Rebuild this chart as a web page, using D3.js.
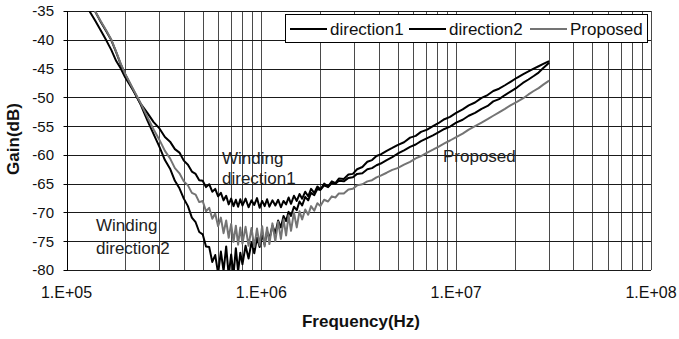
<!DOCTYPE html>
<html>
<head>
<meta charset="utf-8">
<script src="https://cdn.jsdelivr.net/npm/d3@7"></script>
<style>
  html, body { margin: 0; padding: 0; background: #fff; }
  svg { display: block; font-family: Arial, "Liberation Sans", sans-serif; }
</style>
</head>
<body>
<div id="chart"></div>
<script>
// frequency points (Hz), shared by the three measured curves
var freqHz = [
  1.3e5, 1.4e5, 1.5e5, 1.6e5, 1.7e5, 1.8e5, 1.9e5, 2.0e5, 2.2e5, 2.4e5,
  2.6e5, 2.8e5, 3.0e5, 3.2e5, 3.4e5, 3.6e5, 3.8e5, 4.0e5, 4.2e5, 4.4e5,
  4.6e5, 4.8e5, 5.0e5, 5.2e5, 5.4e5, 5.6e5, 5.8e5, 6.0e5, 6.2e5, 6.4e5,
  6.6e5, 6.8e5, 7.0e5, 7.2e5, 7.4e5, 7.6e5, 7.8e5, 8.0e5, 8.3e5, 8.6e5,
  8.9e5, 9.2e5, 9.5e5, 9.8e5, 1.01e6, 1.04e6, 1.07e6, 1.10e6, 1.14e6, 1.18e6,
  1.22e6, 1.26e6, 1.30e6, 1.34e6, 1.38e6, 1.42e6, 1.47e6, 1.52e6, 1.57e6, 1.62e6,
  1.68e6, 1.74e6, 1.80e6, 1.87e6, 1.94e6, 2.01e6, 2.1e6, 2.2e6, 2.3e6, 2.4e6,
  2.5e6, 2.65e6, 2.8e6, 2.95e6, 3.1e6, 3.3e6, 3.5e6, 3.7e6, 3.9e6, 4.1e6,
  4.4e6, 4.7e6, 5.0e6, 5.4e6, 5.8e6, 6.2e6, 6.6e6, 7.1e6, 7.6e6, 8.1e6,
  8.7e6, 9.3e6, 1.0e7, 1.08e7, 1.16e7, 1.25e7, 1.35e7, 1.45e7, 1.55e7, 1.66e7,
  1.78e7, 1.90e7, 2.05e7, 2.2e7, 2.35e7, 2.5e7, 2.65e7, 2.8e7, 3.0e7
];

// gain (dB), winding direction 1
var direction1 = [
  -34.8, -36.6, -38.4, -40.1, -41.8, -43.7, -45.0, -46.5, -48.8, -51.1,
  -52.7, -54.3, -55.4, -56.9, -57.7, -59.0, -59.6, -61.0, -61.7, -62.9,
  -63.3, -64.4, -64.5, -65.6, -65.1, -66.4, -65.9, -67.2, -66.6, -67.9,
  -67.1, -68.6, -67.6, -68.9, -67.8, -69.0, -67.7, -68.8, -67.6, -69.1,
  -67.9, -68.7, -67.5, -69.2, -68.0, -68.9, -67.7, -69.0, -67.9, -68.8,
  -67.8, -69.1, -68.0, -68.6, -67.4, -68.5, -67.1, -68.0, -66.8, -67.6,
  -66.4, -67.2, -65.9, -66.6, -65.5, -66.0, -65.0, -65.5, -64.6, -64.9,
  -64.1, -64.2, -63.4, -63.3, -62.5, -62.1, -61.2, -60.9, -60.2, -59.9,
  -59.3, -58.8, -58.3, -57.8, -57.0, -56.7, -56.0, -55.6, -55.0, -54.5,
  -53.8, -53.4, -52.7, -52.1, -51.4, -50.9, -50.1, -49.6, -48.9, -48.5,
  -47.9, -47.3, -46.6, -46.0, -45.5, -45.0, -44.6, -44.2, -43.7
];

// gain (dB), winding direction 2
var direction2 = [
  -33.0, -35.0, -36.9, -38.5, -40.1, -42.2, -44.3, -46.0, -48.7, -51.2,
  -54.0, -56.4, -58.6, -60.9, -62.4, -64.5, -65.8, -67.6, -68.9, -70.9,
  -71.7, -73.4, -73.8, -75.9, -76.0, -78.6, -77.4, -80.6, -76.8, -80.2,
  -75.9, -81.0, -77.3, -80.8, -76.2, -80.3, -77.0, -79.0, -75.8, -78.0,
  -75.2, -77.1, -74.4, -76.0, -73.8, -75.6, -73.2, -74.6, -72.3, -73.6,
  -71.4, -72.6, -70.6, -71.5, -69.9, -70.6, -69.0, -69.6, -68.1, -68.8,
  -67.3, -67.9, -66.6, -67.0, -65.9, -66.1, -65.3, -65.6, -64.9, -65.0,
  -64.5, -64.6, -64.0, -63.9, -63.3, -63.2, -62.5, -62.3, -61.8, -61.5,
  -60.9, -60.4, -59.8, -59.2, -58.6, -58.2, -57.6, -57.1, -56.6, -56.1,
  -55.5, -55.1, -54.4, -53.9, -53.2, -52.7, -52.0, -51.5, -50.7, -50.3,
  -49.6, -49.0, -48.3, -47.5, -46.9, -46.3, -45.7, -44.9, -44.0
];

// gain (dB), proposed structure
var proposed = [
  -33.0, -35.0, -36.8, -38.4, -40.0, -42.1, -44.2, -45.9, -48.6, -51.0,
  -53.4, -55.6, -57.4, -59.3, -60.6, -62.3, -63.2, -64.6, -65.3, -66.6,
  -66.9, -68.2, -68.0, -69.8, -69.2, -71.1, -70.2, -72.4, -70.9, -73.6,
  -71.4, -74.4, -72.0, -75.1, -72.3, -75.6, -72.6, -75.4, -72.5, -75.8,
  -72.7, -76.0, -72.8, -75.7, -72.4, -75.9, -72.6, -75.5, -71.9, -75.0,
  -71.6, -74.6, -71.2, -74.0, -70.5, -73.2, -70.0, -72.6, -69.8, -71.2,
  -69.5, -70.4, -68.9, -69.7, -68.4, -68.9, -67.8, -68.1, -67.2, -67.4,
  -66.7, -66.7, -66.0, -65.9, -65.3, -65.1, -64.6, -64.4, -63.9, -63.6,
  -63.1, -62.6, -62.3, -61.7, -61.2, -60.6, -60.2, -59.6, -59.1, -58.6,
  -58.0, -57.5, -56.9, -56.3, -55.6, -55.0, -54.4, -53.8, -53.2, -52.6,
  -52.0, -51.4, -50.8, -50.2, -49.5, -48.9, -48.4, -47.8, -47.1
];

var seriesNames = ['direction1', 'direction2', 'Proposed'];
var seriesColors = ['#000000', '#000000', '#747474'];
var gainTicks = [-35, -40, -45, -50, -55, -60, -65, -70, -75, -80];
var decadeTicks = [1e5, 1e6, 1e7, 1e8];
var decadeLabels = ['1.E+05', '1.E+06', '1.E+07', '1.E+08'];

(function() {
  var width = 679, height = 339;
  var plot = { left: 66.5, right: 651, top: 11, bottom: 270 };

  var svg = d3.select('#chart').append('svg')
    .attr('width', width)
    .attr('height', height);

  svg.append('rect')
    .attr('width', width)
    .attr('height', height)
    .attr('fill', '#fff');

  var x = d3.scaleLog().domain([1e5, 1e8]).range([plot.left, plot.right]);
  var y = d3.scaleLinear().domain([-80, -35]).range([plot.bottom, plot.top]);

  function crisp(v) { return Math.round(v) + 0.5; }

  // vertical grid: every 1..9 x decade
  svg.append('g').selectAll('line')
    .data(x.ticks())
    .join('line')
      .attr('x1', function(d) { return crisp(x(d)); })
      .attr('x2', function(d) { return crisp(x(d)); })
      .attr('y1', plot.top)
      .attr('y2', plot.bottom)
      .attr('stroke', '#4a4a4a')
      .attr('stroke-width', 1);

  // horizontal grid
  svg.append('g').selectAll('line')
    .data(gainTicks)
    .join('line')
      .attr('x1', plot.left)
      .attr('x2', plot.right)
      .attr('y1', function(d) { return crisp(y(d)); })
      .attr('y2', function(d) { return crisp(y(d)); })
      .attr('stroke', '#1a1a1a')
      .attr('stroke-width', 1);

  // left axis line + small ticks
  svg.append('line')
    .attr('x1', crisp(plot.left)).attr('x2', crisp(plot.left))
    .attr('y1', plot.top).attr('y2', plot.bottom + 0.5)
    .attr('stroke', '#000');
  svg.append('g').selectAll('line')
    .data(gainTicks)
    .join('line')
      .attr('x1', crisp(plot.left) - 4)
      .attr('x2', crisp(plot.left))
      .attr('y1', function(d) { return crisp(y(d)); })
      .attr('y2', function(d) { return crisp(y(d)); })
      .attr('stroke', '#000');

  // y tick labels
  svg.append('g').selectAll('text')
    .data(gainTicks)
    .join('text')
      .attr('x', 54)
      .attr('y', function(d) { return y(d); })
      .attr('dy', '0.36em')
      .attr('text-anchor', 'end')
      .attr('font-size', 15)
      .attr('fill', '#111')
      .text(function(d) { return d; });

  // x tick labels
  svg.append('g').selectAll('text')
    .data(decadeTicks)
    .join('text')
      .attr('x', function(d) { return x(d); })
      .attr('y', 298)
      .attr('text-anchor', 'middle')
      .attr('font-size', 16)
      .attr('fill', '#111')
      .text(function(d, i) { return decadeLabels[i]; });

  // axis titles
  svg.append('text')
    .attr('x', 361)
    .attr('y', 327)
    .attr('text-anchor', 'middle')
    .attr('font-size', 17)
    .attr('font-weight', 'bold')
    .attr('fill', '#111')
    .text('Frequency(Hz)');

  svg.append('text')
    .attr('transform', 'translate(19,139) rotate(-90)')
    .attr('text-anchor', 'middle')
    .attr('font-size', 17)
    .attr('font-weight', 'bold')
    .attr('fill', '#111')
    .text('Gain(dB)');

  // curves, clipped to plot area
  svg.append('clipPath').attr('id', 'plotClip')
    .append('rect')
      .attr('x', plot.left)
      .attr('y', plot.top)
      .attr('width', plot.right - plot.left)
      .attr('height', plot.bottom - plot.top);

  var line = d3.line()
    .x(function(d) { return x(d[0]); })
    .y(function(d) { return y(d[1]); });

  var series = [direction1, direction2, proposed].map(function(vals) {
    return freqHz.map(function(f, i) { return [f, vals[i]]; });
  });

  svg.append('g').attr('clip-path', 'url(#plotClip)')
    .selectAll('path')
    .data(series)
    .join('path')
      .attr('d', line)
      .attr('fill', 'none')
      .attr('stroke', function(d, i) { return seriesColors[i]; })
      .attr('stroke-width', 2)
      .attr('stroke-linejoin', 'round');

  // legend
  var legend = svg.append('g');
  legend.append('rect')
    .attr('x', 285.5).attr('y', 14.5)
    .attr('width', 362).attr('height', 28)
    .attr('fill', '#fff')
    .attr('stroke', '#000');

  var legendX = [290, 409, 530];
  seriesNames.forEach(function(name, i) {
    legend.append('line')
      .attr('x1', legendX[i]).attr('x2', legendX[i] + 37)
      .attr('y1', 29).attr('y2', 29)
      .attr('stroke', seriesColors[i])
      .attr('stroke-width', 2);
    legend.append('text')
      .attr('x', legendX[i] + 40)
      .attr('y', 35)
      .attr('font-size', 17)
      .attr('fill', '#111')
      .text(name);
  });

  // annotations
  var notes = [
    { x: 222, y: 164, t: 'Winding' },
    { x: 222, y: 184, t: 'direction1' },
    { x: 96, y: 231, t: 'Winding' },
    { x: 96, y: 254, t: 'direction2' },
    { x: 443, y: 162, t: 'Proposed' }
  ];
  svg.append('g').selectAll('text')
    .data(notes)
    .join('text')
      .attr('x', function(d) { return d.x; })
      .attr('y', function(d) { return d.y; })
      .attr('font-size', 17)
      .attr('fill', '#222')
      .text(function(d) { return d.t; });
}());
</script>
</body>
</html>
